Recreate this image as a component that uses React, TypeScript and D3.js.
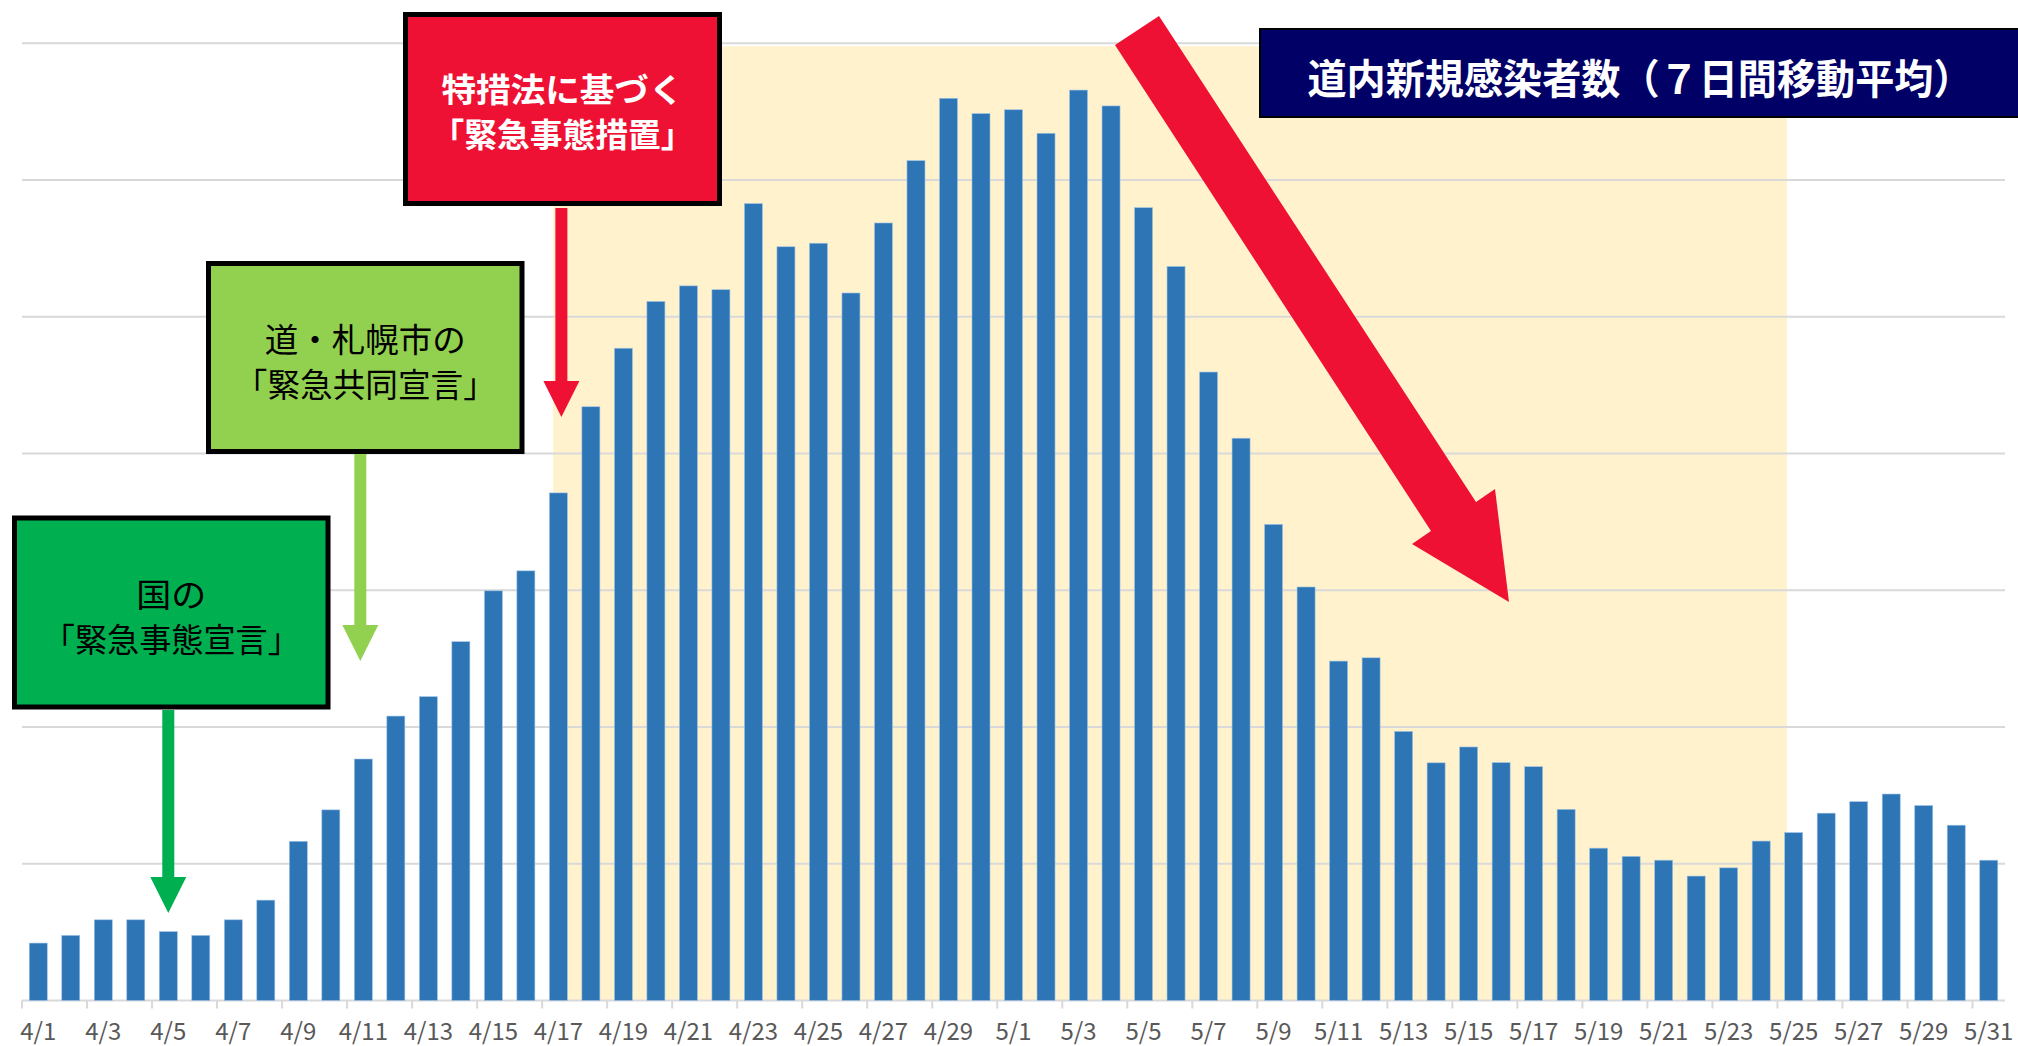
import React from 'react';
import * as d3 from 'd3';

// 道内新規感染者数（7日間移動平均）, 4/1〜5/31
const dates = [
  '4/1', '4/2', '4/3', '4/4', '4/5', '4/6', '4/7', '4/8', '4/9', '4/10',
  '4/11', '4/12', '4/13', '4/14', '4/15', '4/16', '4/17', '4/18', '4/19', '4/20',
  '4/21', '4/22', '4/23', '4/24', '4/25', '4/26', '4/27', '4/28', '4/29', '4/30',
  '5/1', '5/2', '5/3', '5/4', '5/5', '5/6', '5/7', '5/8', '5/9', '5/10',
  '5/11', '5/12', '5/13', '5/14', '5/15', '5/16', '5/17', '5/18', '5/19', '5/20',
  '5/21', '5/22', '5/23', '5/24', '5/25', '5/26', '5/27', '5/28', '5/29', '5/30',
  '5/31',
];

const cases = [
  2.10, 2.38, 2.95, 2.95, 2.52, 2.38, 2.95, 3.67, 5.82, 6.97,
  8.83, 10.40, 11.11, 13.12, 14.98, 15.71, 18.56, 21.71, 23.85, 25.56,
  26.13, 25.99, 29.14, 27.56, 27.69, 25.87, 28.43, 30.71, 32.99, 32.43,
  32.57, 31.71, 33.29, 32.71, 28.99, 26.84, 22.98, 20.56, 17.41, 15.12,
  12.41, 12.53, 9.84, 8.69, 9.27, 8.70, 8.55, 6.99, 5.57, 5.27,
  5.13, 4.55, 4.85, 5.83, 6.14, 6.85, 7.27, 7.55, 7.13, 6.41,
  5.13,
];

const tickLabels = [
  '4/1', '4/3', '4/5', '4/7', '4/9', '4/11', '4/13', '4/15', '4/17', '4/19',
  '4/21', '4/23', '4/25', '4/27', '4/29', '5/1', '5/3', '5/5', '5/7', '5/9',
  '5/11', '5/13', '5/15', '5/17', '5/19', '5/21', '5/23', '5/25', '5/27', '5/29',
  '5/31',
];

const gridValues = [0, 5, 10, 15, 20, 25, 30, 35];

// 緊急事態措置の期間（背景の網掛け）
const shadeFrom = '4/17';
const shadeTo = '5/25';

const W = 2018;
const H = 1046;
const FONT = '"Noto Sans CJK JP", "Noto Sans", sans-serif';

const x = d3.scaleBand<string>()
  .domain(dates)
  .range([22, 2005])
  .paddingInner(0.446)
  .paddingOuter(0.223);

const y = d3.scaleLinear().domain([0, 35]).range([1000.5, 43.3]);

const bw = x.bandwidth();
const step = x.step();
const left = (d: string) => (x(d) as number) - (step - bw) / 2; // band boundary
const mid = (d: string) => (x(d) as number) + bw / 2;

// 下向き矢印
const DownArrow = ({ cx, y0, y1, color }: { cx: number; y0: number; y1: number; color: string }) => {
  const sw = 6;
  const hw = 18;
  const hl = 36;
  const pts = [
    [cx - sw, y0], [cx + sw, y0], [cx + sw, y1 - hl], [cx + hw, y1 - hl],
    [cx, y1], [cx - hw, y1 - hl], [cx - sw, y1 - hl],
  ];
  return <polygon points={pts.map(p => p.join(',')).join(' ')} fill={color} />;
};

// 注記ボックス（幅は textLength で元図に合わせる）
const Note = ({ bx, by, bwid, bh, fill, color, weight, lines, ly, lw }: any) => (
  <g>
    <rect x={bx} y={by} width={bwid} height={bh} fill={fill} stroke="#000" strokeWidth={5} />
    {lines.map((t: string, i: number) => (
      <text key={i} x={bx + bwid / 2} y={ly[i]} textAnchor="middle" dominantBaseline="central"
        fill={color} fontSize={33} fontWeight={weight} fontFamily={FONT}
        textLength={lw[i]} lengthAdjust="spacingAndGlyphs">{t}</text>
    ))}
  </g>
);

export default function App() {
  const bigArrow = [
    [1115, 45], [1159, 16], [1476, 502], [1495, 489],
    [1509, 602], [1412, 544], [1431, 531],
  ];

  return (
    <svg width={W} height={H} style={{ position: 'absolute', left: 0, top: 0, background: '#fff' }}>
      {/* 網掛け */}
      <rect x={left(shadeFrom) + step * 0.34} y={y(35) + 3}
        width={left(shadeTo) + step * 0.29 - (left(shadeFrom) + step * 0.34)}
        height={y(0) - y(35) - 3} fill="#FFF2CC" />

      {/* grid lines */}
      {gridValues.map(v => (
        <line key={v} x1={22} x2={2005} y1={y(v)} y2={y(v)} stroke="#D9D9D9" strokeWidth={2} />
      ))}

      {/* bars */}
      {dates.map((d, i) => (
        <rect key={d} x={x(d)} y={y(cases[i])} width={bw} height={y(0) - y(cases[i])}
          fill="#2E75B6" stroke="#9DC3E6" strokeWidth={0.6} />
      ))}

      {/* x axis */}
      {dates.map((d, i) => i % 2 === 0 ? (
        <line key={'t' + d} x1={left(d)} x2={left(d)} y1={y(0)} y2={y(0) + 8} stroke="#D9D9D9" strokeWidth={2} />
      ) : null)}
      {tickLabels.map(d => (
        <text key={'l' + d} x={mid(d)} y={1040} textAnchor="middle" fill="#595959"
          fontSize={24} fontFamily={FONT}>{d}</text>
      ))}

      {/* 注記 */}
      <Note bx={405.5} by={14.5} bwid={314} bh={189} fill="#EF1133" color="#fff" weight="bold"
        lines={['特措法に基づく', '「緊急事態措置」']} ly={[88, 133]} lw={[242, 262]} />
      <DownArrow cx={mid('4/17') + 3} y0={208} y1={417} color="#EF1133" />

      <Note bx={208.5} by={263.5} bwid={313.5} bh={188} fill="#92D050" color="#000" weight="normal"
        lines={['道・札幌市の', '「緊急共同宣言」']} ly={[338, 383]} lw={[201, 261]} />
      <DownArrow cx={mid('4/11') - 3} y0={454} y1={661} color="#92D050" />

      <Note bx={14.5} by={518} bwid={313.5} bh={189} fill="#00B050" color="#000" weight="normal"
        lines={['国の', '「緊急事態宣言」']} ly={[593, 638]} lw={[70, 257]} />
      <DownArrow cx={mid('4/5')} y0={710} y1={913} color="#00B050" />

      {/* 減少を示す矢印 */}
      <polygon points={bigArrow.map(p => p.join(',')).join(' ')} fill="#EF1133" />

      {/* タイトル */}
      <rect x={1260} y={29} width={770} height={88} fill="#000066" stroke="#000" strokeWidth={2} />
      <text x={1640} y={76} textAnchor="middle" dominantBaseline="central" fill="#fff"
        fontSize={41} fontWeight="bold" fontFamily={FONT}
        textLength={665} lengthAdjust="spacingAndGlyphs">道内新規感染者数（７日間移動平均）</text>
    </svg>
  );
}
